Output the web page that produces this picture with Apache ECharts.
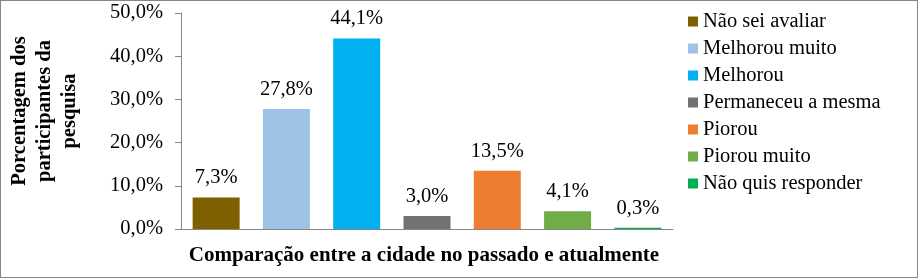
<!DOCTYPE html>
<html>
<head>
<meta charset="utf-8">
<script src="https://cdn.jsdelivr.net/npm/echarts@6/dist/echarts.min.js"></script>
<style>
  html, body { margin: 0; padding: 0; background: #fff; }
  #chart { width: 918px; height: 278px; box-sizing: border-box; border: 1px solid #868686; }
</style>
</head>
<body>
<div id="chart"></div>
<script>
// dados do gráfico
var categorias = ['Não sei avaliar', 'Melhorou muito', 'Melhorou', 'Permaneceu a mesma', 'Piorou', 'Piorou muito', 'Não quis responder'];
var valores = [7.3, 27.8, 44.1, 3.0, 13.5, 4.1, 0.3];
var cores = ['#7f6000', '#9dc3e6', '#00b0f0', '#767171', '#ed7d31', '#70ad47', '#00b050'];
var yTicks = [0, 10, 20, 30, 40, 50];

var fonte = 'Liberation Serif';
var tam = 20.5;

function fmt(v) {
  return v.toFixed(1).replace('.', ',') + '%';
}

var chart = echarts.init(document.getElementById('chart'));

// uma série por categoria, só com o seu valor (para a legenda)
var series = [];
for (var i = 0; i < categorias.length; i++) {
  var d = [];
  for (var j = 0; j < categorias.length; j++) {
    d.push(j == i ? valores[i] : null);
  }
  series.push({
    name: categorias[i],
    type: 'bar',
    stack: 'total',
    barWidth: 47,
    data: d,
    itemStyle: { color: cores[i] },
    label: {
      show: true,
      position: 'top',
      distance: 9,
      fontFamily: fonte,
      fontSize: tam,
      color: '#000',
      formatter: function (p) { return fmt(p.value); }
    }
  });
}

var option = {
  animation: false,
  textStyle: { fontFamily: fonte },
  grid: {
    left: 180,
    top: 12,
    width: 492,
    height: 216
  },
  legend: {
    orient: 'vertical',
    left: 687,
    top: 10,
    padding: 0,
    itemWidth: 10,
    itemHeight: 10,
    itemGap: 6,
    icon: 'rect',
    textStyle: { fontFamily: fonte, fontSize: tam, color: '#000' },
    data: categorias
  },
  xAxis: {
    type: 'category',
    data: categorias,
    z: 5,
    axisLine: { lineStyle: { color: '#868686' } },
    axisTick: { show: false },
    axisLabel: { show: false }
  },
  yAxis: {
    type: 'value',
    min: yTicks[0],
    max: yTicks[yTicks.length - 1],
    interval: 10,
    splitLine: { show: false },
    axisLine: { show: true, lineStyle: { color: '#868686' } },
    axisTick: { show: true, length: 6, lineStyle: { color: '#868686' } },
    axisLabel: {
      fontFamily: fonte,
      fontSize: tam,
      color: '#000',
      margin: 18,
      formatter: function (v) { return fmt(v); }
    }
  },
  graphic: [
    {
      type: 'text',
      x: 44,
      y: 110,
      rotation: Math.PI / 2,
      style: {
        text: 'Porcentagem dos\nparticipantes da\npesquisa',
        fontFamily: fonte,
        fontSize: tam,
        fontWeight: 'bold',
        lineHeight: 25,
        fill: '#000',
        align: 'center',
        verticalAlign: 'middle'
      }
    },
    {
      type: 'text',
      x: 423,
      y: 255,
      style: {
        text: 'Comparação entre a cidade no passado e atualmente',
        fontFamily: fonte,
        fontSize: 21,
        fontWeight: 'bold',
        fill: '#000',
        align: 'center',
        verticalAlign: 'middle'
      }
    }
  ],
  series: series
};

chart.setOption(option);
</script>
</body>
</html>
